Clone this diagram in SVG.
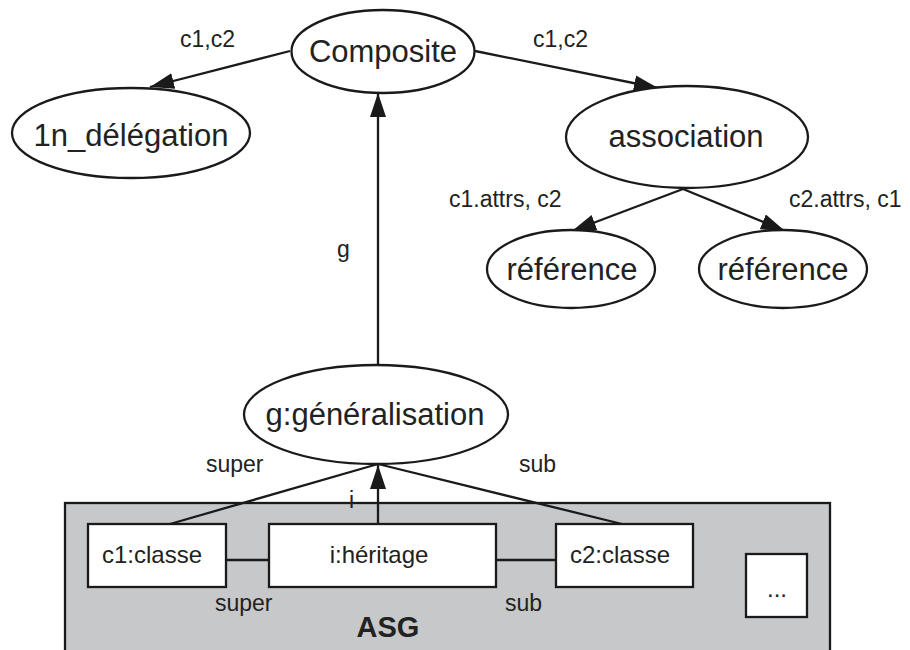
<svg xmlns="http://www.w3.org/2000/svg" width="910" height="650" viewBox="0 0 910 650">
  <style>
    text { font-family: "Liberation Sans", Arial, sans-serif; fill: #222; }
    .node ellipse { fill: #fff; stroke: #1a1a1a; stroke-width: 2.3; }
    .node rect { fill: #fff; stroke: #1a1a1a; stroke-width: 2.3; }
    .nl { font-size: 31px; text-anchor: middle; }
    .bl { font-size: 24px; text-anchor: middle; }
    .el { font-size: 23px; }
    .edge { stroke: #1a1a1a; stroke-width: 2.3; fill: none; }
    .arrow { marker-end: url(#tip); }
  </style>
  <defs>
    <marker id="tip" markerUnits="userSpaceOnUse" markerWidth="25" markerHeight="16" refX="24" refY="8" orient="auto">
      <path d="M0,0 L24,8 L0,16 Z" fill="#1a1a1a"/>
    </marker>
  </defs>

  <rect width="910" height="650" fill="#fff"/>

  <!-- ASG container -->
  <g id="asg">
    <rect x="65" y="503" width="765" height="160" fill="#c7c8ca" stroke="#1a1a1a" stroke-width="2.3"/>
    <text x="388" y="637" font-size="29" font-weight="bold" text-anchor="middle">ASG</text>
  </g>

  <!-- connectors -->
  <g id="connectors">
    <line class="edge arrow" x1="290" y1="51" x2="150" y2="87"/>
    <line class="edge arrow" x1="475" y1="51" x2="658" y2="88"/>
    <line class="edge arrow" x1="683" y1="189" x2="572" y2="231"/>
    <line class="edge arrow" x1="683" y1="189" x2="785" y2="231"/>
    <line class="edge arrow" x1="378" y1="366" x2="378" y2="93"/>
    <line class="edge arrow" x1="378" y1="524" x2="378" y2="465"/>
    <line class="edge" x1="170" y1="524" x2="378" y2="464"/>
    <line class="edge" x1="622" y1="524" x2="378" y2="464"/>
    <line class="edge" x1="226" y1="560" x2="269" y2="560"/>
    <line class="edge" x1="496" y1="560" x2="556" y2="560"/>

    <text class="el" x="180" y="47">c1,c2</text>
    <text class="el" x="533" y="47">c1,c2</text>
    <text class="el" x="449" y="207">c1.attrs, c2</text>
    <text class="el" x="789" y="207">c2.attrs, c1</text>
    <text class="el" x="337" y="257">g</text>
    <text class="el" x="206" y="472">super</text>
    <text class="el" x="519" y="472">sub</text>
    <text class="el" x="349" y="508">i</text>
    <text class="el" x="215" y="611">super</text>
    <text class="el" x="505" y="611">sub</text>
  </g>

  <!-- nodes -->
  <g id="composite" class="node">
    <ellipse cx="383" cy="51.5" rx="91.5" ry="41.5"/>
    <text class="nl" x="383" y="62">Composite</text>
  </g>
  <g id="delegation" class="node">
    <ellipse cx="131" cy="133" rx="119" ry="45"/>
    <text class="nl" x="131" y="146">1n_délégation</text>
  </g>
  <g id="association" class="node">
    <ellipse cx="687" cy="137" rx="121" ry="51"/>
    <text class="nl" x="686" y="147">association</text>
  </g>
  <g id="reference1" class="node">
    <ellipse cx="571" cy="269" rx="84" ry="39"/>
    <text class="nl" x="572" y="280">référence</text>
  </g>
  <g id="reference2" class="node">
    <ellipse cx="783" cy="269" rx="84" ry="39"/>
    <text class="nl" x="783" y="280">référence</text>
  </g>
  <g id="generalisation" class="node">
    <ellipse cx="376" cy="414.5" rx="132" ry="49.5"/>
    <text class="nl" x="375" y="425">g:généralisation</text>
  </g>
  <g id="c1" class="node">
    <rect x="88" y="524" width="138" height="63"/>
    <text class="bl" x="152" y="563">c1:classe</text>
  </g>
  <g id="heritage" class="node">
    <rect x="269" y="524" width="227" height="63"/>
    <text class="bl" x="379" y="563">i:héritage</text>
  </g>
  <g id="c2" class="node">
    <rect x="556" y="524" width="137" height="63"/>
    <text class="bl" x="620" y="563">c2:classe</text>
  </g>
  <g id="more" class="node">
    <rect x="746" y="554" width="61" height="63"/>
    <text class="bl" x="777" y="597">...</text>
  </g>
</svg>
